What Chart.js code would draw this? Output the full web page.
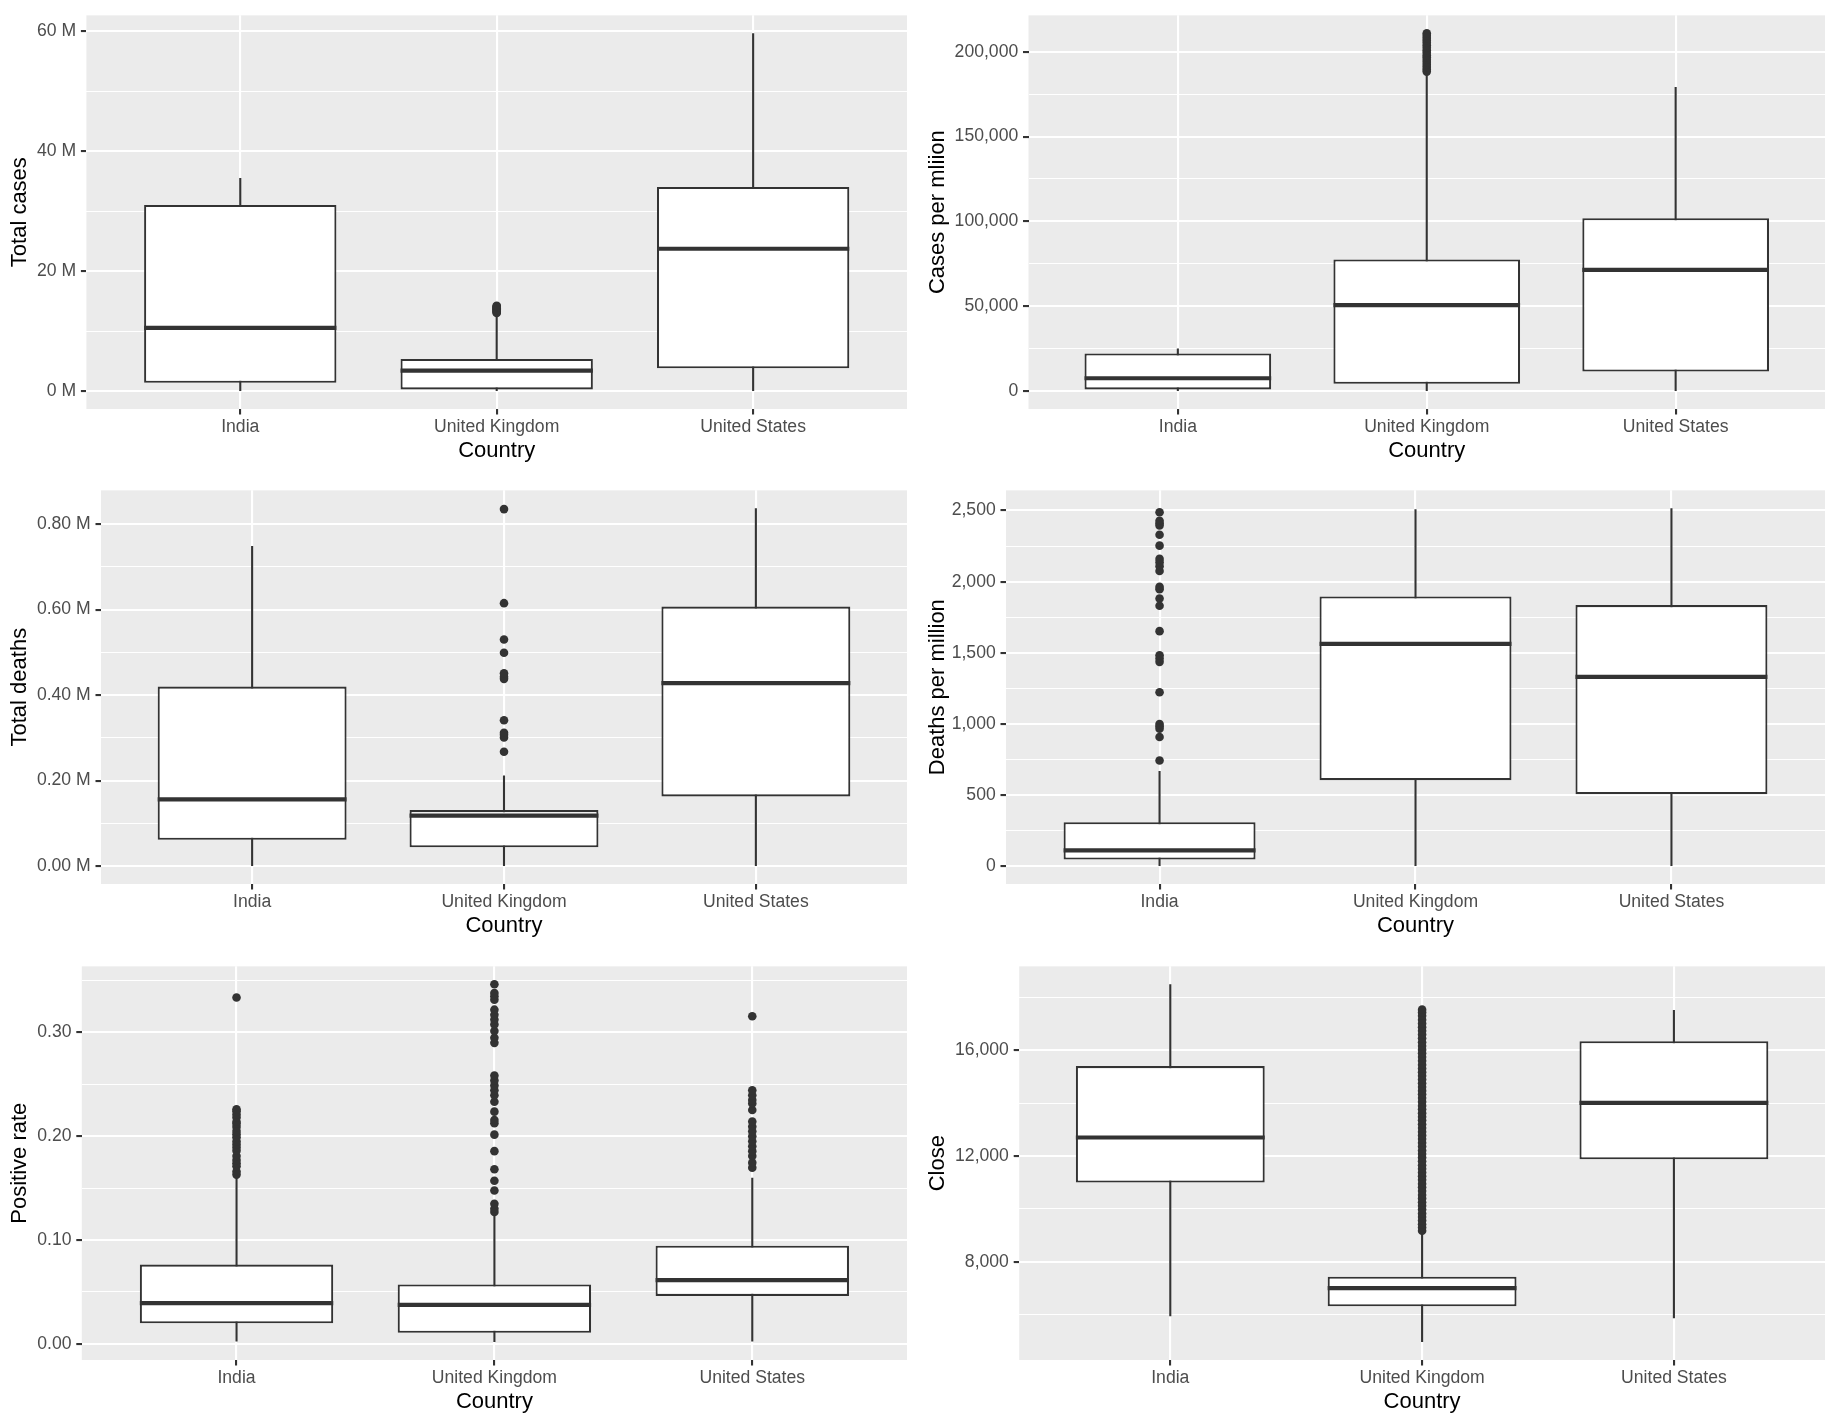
<!DOCTYPE html>
<html>
<head>
<meta charset="utf-8">
<script src="https://cdn.jsdelivr.net/npm/chart.js@4.4.1/dist/chart.umd.min.js"></script>
<style>
  html, body { margin: 0; padding: 0; background: #fff; }
  #wrap { position: relative; width: 1836px; height: 1426px; }
  .cell { position: absolute; width: 918px; height: 475px; }
</style>
</head>
<body>
<div id="wrap"></div>
<script>
"use strict";

// ── Data ──
const countries = ["India", "United Kingdom", "United States"];

// box stats per country: [lower whisker, Q1, median, Q3, upper whisker]
const totalCasesBox = [[0, 1.39, 10.55, 31.05, 35.55], [0, 0.28, 3.43, 5.37, 12.85], [0, 3.81, 23.75, 34.06, 59.7]];
const totalCasesOut = [[], [13.05, 13.18, 13.3, 13.42, 13.55, 13.66, 13.78, 13.9, 14.02, 14.13, 14.22], []];
const totalCasesTicks  = [0, 20, 40, 60];
const totalCasesLabels = ["0 M", "20 M", "40 M", "60 M"];
const totalCasesMinor  = [10, 30, 50];

const casesPmBox = [[0, 1000, 7580, 22160, 25070], [0, 4300, 50700, 77600, 186500], [0, 11500, 71400, 101900, 179200]];
const casesPmOut = [[], [188300, 189600, 191000, 192400, 193900, 195300, 196700, 198000, 199500, 200900, 202400, 203800, 205300, 206700, 208100, 209500, 210900], []];
const casesPmTicks  = [0, 50000, 100000, 150000, 200000];
const casesPmLabels = ["0", "50,000", "100,000", "150,000", "200,000"];
const casesPmMinor  = [25000, 75000, 125000, 175000];

const deathsBox = [[0, 0.0617, 0.156, 0.420, 0.749], [0, 0.044, 0.118, 0.131, 0.212], [0, 0.163, 0.428, 0.607, 0.837]];
const deathsOut = [[], [0.2675, 0.301, 0.307, 0.312, 0.341, 0.438, 0.443, 0.451, 0.499, 0.530, 0.615, 0.835], []];
const deathsTicks  = [0, 0.2, 0.4, 0.6, 0.8];
const deathsLabels = ["0.00 M", "0.20 M", "0.40 M", "0.60 M", "0.80 M"];
const deathsMinor  = [0.1, 0.3, 0.5, 0.7];

const deathsPmBox = [[0, 46, 111, 309, 669], [0, 604, 1563, 1896, 2509], [0, 506, 1331, 1835, 2516]];
const deathsPmOut = [[743, 908, 966, 983, 999, 1222, 1436, 1459, 1482, 1652, 1831, 1882, 1947, 1963, 2075, 2109, 2137, 2160, 2253, 2330, 2395, 2411, 2428, 2488], [], []];
const deathsPmTicks  = [0, 500, 1000, 1500, 2000, 2500];
const deathsPmLabels = ["0", "500", "1,000", "1,500", "2,000", "2,500"];
const deathsPmMinor  = [250, 750, 1250, 1750, 2250];

const posRateBox = [[0.0022, 0.0196, 0.039, 0.0762, 0.160], [0.0015, 0.0105, 0.0374, 0.0571, 0.125], [0.0022, 0.046, 0.0612, 0.0945, 0.160]];
const posRateOut = [
  [0.163, 0.166, 0.171, 0.174, 0.177, 0.181, 0.186, 0.189, 0.192, 0.195, 0.199, 0.202, 0.205, 0.209, 0.212, 0.214, 0.218, 0.221, 0.224, 0.226, 0.3338],
  [0.1269, 0.130, 0.1348, 0.1476, 0.157, 0.1681, 0.1856, 0.2015, 0.2126, 0.2157, 0.2237, 0.2332, 0.2395, 0.2443, 0.249, 0.2538, 0.2586, 0.290, 0.295, 0.3014, 0.3078, 0.3126, 0.317, 0.322, 0.3316, 0.335, 0.338, 0.3465],
  [0.1697, 0.1745, 0.1809, 0.1856, 0.1904, 0.1951, 0.1999, 0.2047, 0.2094, 0.2142, 0.2253, 0.2316, 0.2348, 0.2395, 0.2443, 0.3157],
];
const posRateTicks  = [0, 0.1, 0.2, 0.3];
const posRateLabels = ["0.00", "0.10", "0.20", "0.30"];
const posRateMinor  = [0.05, 0.15, 0.25, 0.35];

const closeBox = [[5945, 11000, 12700, 15400, 18490], [4970, 6320, 7006, 7440, 9100], [5870, 11877, 14008, 16337, 17521]];
const closeOut = [[], [
  9180, 9300, 9420, 9560, 9700, 9830, 9980, 10120, 10250, 10400, 10530, 10680, 10820, 10950, 11100, 11240,
  11380, 11520, 11650, 11800, 11940, 12080, 12210, 12360, 12500, 12640, 12780, 12920, 13060, 13200, 13350,
  13480, 13620, 13770, 13900, 14050, 14190, 14330, 14470, 14610, 14750, 14890, 15030, 15170, 15310, 15450,
  15600, 15740, 15880, 16020, 16160, 16300, 16450, 16590, 16730, 16870, 17010, 17150, 17300, 17420, 17530,
], []];
const closeTicks  = [8000, 12000, 16000];
const closeLabels = ["8,000", "12,000", "16,000"];
const closeMinor  = [6000, 10000, 14000, 18000];

// ── Layout ──
const FONT     = "'Liberation Sans', Arial, Helvetica, sans-serif";
const INK      = "#333333";
const ROW_TOPS = [0, 475, 951];
const HALF_BOX = 0.375;
const LINE     = 2.1;

const panels = [
  { title: "Total cases",        box: totalCasesBox, out: totalCasesOut, ticks: totalCasesTicks, labels: totalCasesLabels, minor: totalCasesMinor, left: 86.4 },
  { title: "Cases per mliion",   box: casesPmBox,    out: casesPmOut,    ticks: casesPmTicks,    labels: casesPmLabels,    minor: casesPmMinor,    left: 110.5 },
  { title: "Total deaths",       box: deathsBox,     out: deathsOut,     ticks: deathsTicks,     labels: deathsLabels,     minor: deathsMinor,     left: 101 },
  { title: "Deaths per million", box: deathsPmBox,   out: deathsPmOut,   ticks: deathsPmTicks,   labels: deathsPmLabels,   minor: deathsPmMinor,   left: 88 },
  { title: "Positive rate",      box: posRateBox,    out: posRateOut,    ticks: posRateTicks,    labels: posRateLabels,    minor: posRateMinor,    left: 81.8 },
  { title: "Close",              box: closeBox,      out: closeOut,      ticks: closeTicks,      labels: closeLabels,      minor: closeMinor,      left: 101.2 },
];

// grey panel behind the grid
const panelBg = {
  id: "panelBg",
  beforeDraw(chart) {
    const { ctx, chartArea: a } = chart;
    ctx.save();
    ctx.fillStyle = "#EBEBEB";
    ctx.fillRect(a.left, a.top, a.right - a.left, a.bottom - a.top);
    ctx.restore();
  },
};

function buildPanel(p, idx) {
  const cell = document.createElement("div");
  cell.className = "cell";
  cell.style.left = `${(idx % 2) * 918}px`;
  cell.style.top  = `${ROW_TOPS[Math.floor(idx / 2)]}px`;
  const canvas = document.createElement("canvas");
  canvas.width  = 918;
  canvas.height = 475;
  cell.appendChild(canvas);
  document.getElementById("wrap").appendChild(cell);

  // ggplot-style 5% expansion of the data range
  const all = p.box.flat().concat(p.out.flat());
  const lo  = Math.min(...all);
  const hi  = Math.max(...all);
  const pad = (hi - lo) * 0.05;

  const whiskers = [], medians = [], boxes = [], outliers = [];
  p.box.forEach((s, i) => {
    whiskers.push({ x: i, y: s[0] }, { x: i, y: s[4] }, { x: i, y: null });
    medians.push({ x: i - HALF_BOX, y: s[2] }, { x: i + HALF_BOX, y: s[2] }, { x: i, y: null });
    boxes.push({ x: i, y: [s[1], s[3]] });
    p.out[i].forEach(v => outliers.push({ x: i, y: v }));
  });

  const tickFont = { family: FONT, size: 17.6 };
  const isMinor  = c => !!(c.tick && c.tick.minor);

  new Chart(canvas, {
    type: "scatter",
    data: {
      datasets: [
        { type: "scatter", data: outliers, order: 0,
          backgroundColor: INK, borderColor: INK, borderWidth: 0, pointRadius: 4.3, pointHoverRadius: 4.3 },
        { type: "line", data: medians, order: 1,
          borderColor: INK, borderWidth: LINE * 2, pointRadius: 0, spanGaps: false, tension: 0, borderCapStyle: "butt" },
        { type: "bar", data: boxes, order: 2,
          backgroundColor: "#ffffff", borderColor: INK, borderWidth: LINE, borderSkipped: false,
          inflateAmount: 0, categoryPercentage: 0.75, barPercentage: 1 },
        { type: "line", data: whiskers, order: 3,
          borderColor: INK, borderWidth: LINE, pointRadius: 0, spanGaps: false, tension: 0, borderCapStyle: "butt" },
      ],
    },
    options: {
      responsive: false,
      animation: false,
      events: [],
      layout: { padding: { top: 11, right: 11, left: 0, bottom: 0 } },
      plugins: { legend: { display: false }, tooltip: { enabled: false } },
      scales: {
        x: {
          type: "linear",
          min: -0.6,
          max: 2.6,
          offset: false,
          afterBuildTicks: axis => { axis.ticks = countries.map((c, i) => ({ value: i })); },
          afterFit: axis => { axis.height = 66; },
          ticks: { callback: v => countries[v], autoSkip: false, maxRotation: 0, padding: 2.5,
                   font: tickFont, color: "#4D4D4D" },
          grid: { offset: false, color: "#ffffff", lineWidth: LINE, tickColor: INK, tickWidth: LINE, tickLength: 5.5 },
          border: { display: false },
          title: { display: true, text: "Country", color: "#000",
                   font: { family: FONT, size: 22, lineHeight: 1 }, padding: { top: 0, bottom: 12.6 } },
        },
        y: {
          type: "linear",
          min: lo - pad,
          max: hi + pad,
          afterBuildTicks: axis => {
            axis.ticks = p.minor.map(v => ({ value: v, minor: true }))
              .concat(p.ticks.map(v => ({ value: v })))
              .filter(t => t.value >= lo - pad && t.value <= hi + pad)
              .sort((a, b) => a.value - b.value);
          },
          afterFit: axis => { axis.width = p.left; },
          ticks: {
            callback: (v, i, ticks) => (ticks[i].minor ? "" : p.labels[p.ticks.indexOf(v)]),
            autoSkip: false, padding: 4.8, font: tickFont, color: "#4D4D4D",
          },
          grid: {
            color: "#ffffff",
            lineWidth: c => (isMinor(c) ? LINE / 2 : LINE),
            tickColor: c => (isMinor(c) ? "rgba(0,0,0,0)" : INK),
            tickWidth: LINE,
            tickLength: 5.5,
          },
          border: { display: false },
          title: { display: true, text: p.title, color: "#000",
                   font: { family: FONT, size: 22, lineHeight: 1 }, padding: { top: 9, bottom: 0 } },
        },
      },
    },
    plugins: [panelBg],
  });
}

panels.forEach(buildPanel);
</script>
</body>
</html>
